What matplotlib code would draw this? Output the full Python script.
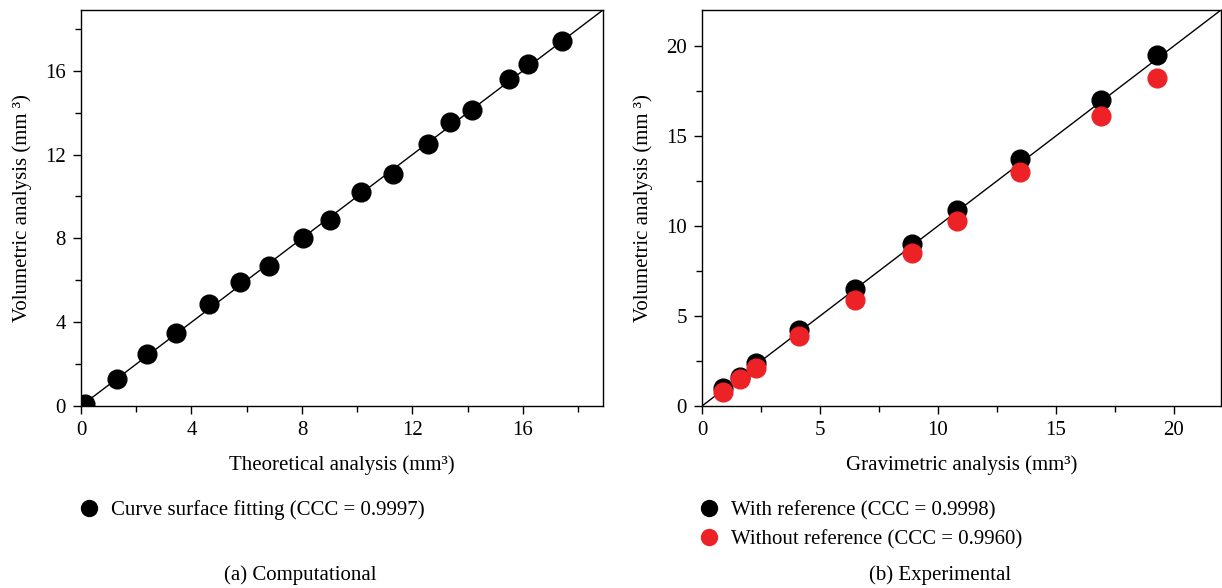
import matplotlib.pyplot as plt
import numpy as np

plt.rcParams['font.family'] = ['Liberation Serif', 'DejaVu Serif']

# (a) computational
teoria_x = np.array([0.15, 1.3, 2.4, 3.45, 4.65, 5.75, 6.8, 8.05, 9.0, 10.15,
                     11.3, 12.55, 13.35, 14.15, 15.5, 16.2, 17.4])
teoria_y = np.array([0.1, 1.3, 2.5, 3.5, 4.85, 5.9, 6.7, 8.0, 8.9, 10.2,
                     11.05, 12.5, 13.55, 14.15, 15.6, 16.3, 17.4])

# (b) experimental
grav_x = np.array([0.9, 1.6, 2.3, 4.1, 6.5, 8.9, 10.8, 13.5, 16.9, 19.3])
z_ref = np.array([1.0, 1.6, 2.4, 4.2, 6.5, 9.0, 10.9, 13.7, 17.0, 19.5])
bez_ref = np.array([0.8, 1.5, 2.1, 3.9, 5.9, 8.5, 10.3, 13.0, 16.1, 18.2])

czerwony = '#ec2227'
fs = 15
ms = 13.5

fig = plt.figure(figsize=(12.22, 5.88), dpi=100)
ax1 = fig.add_axes([81/1222, 182/588, 522/1222, 396/588])
ax2 = fig.add_axes([702/1222, 182/588, 519/1222, 396/588])

ax1.axline((0, 0), slope=1, color='black', lw=1)
k1, = ax1.plot(teoria_x, teoria_y, 'o', color='black', ms=ms, ls='none')
ax1.set_xlim(0, 18.9)
ax1.set_ylim(0, 18.9)
ax1.set_xticks(np.arange(0, 17, 4))
ax1.set_yticks(np.arange(0, 17, 4))
ax1.set_xticks(np.arange(2, 19, 4), minor=True)
ax1.set_yticks(np.arange(2, 19, 4), minor=True)
ax1.set_xlabel('Theoretical analysis (mm³)', fontsize=fs, labelpad=11)
ax1.set_ylabel('Volumetric analysis (mm ³)', fontsize=fs, labelpad=9)

ax2.axline((0, 0), slope=1, color='black', lw=1)
k2, = ax2.plot(grav_x, z_ref, 'o', color='black', ms=ms, ls='none')
k3, = ax2.plot(grav_x, bez_ref, 'o', color=czerwony, ms=ms, ls='none')
ax2.set_xlim(0, 22)
ax2.set_ylim(0, 22)
ax2.set_xticks(np.arange(0, 21, 5))
ax2.set_yticks(np.arange(0, 21, 5))
ax2.set_xticks(np.arange(2.5, 22, 5), minor=True)
ax2.set_yticks(np.arange(2.5, 22, 5), minor=True)
ax2.set_xlabel('Gravimetric analysis (mm³)', fontsize=fs, labelpad=11)
ax2.set_ylabel('Volumetric analysis (mm ³)', fontsize=fs, labelpad=9)

for ax in (ax1, ax2):
    ax.tick_params(which='major', direction='out', length=6, width=1,
                   labelsize=fs, pad=5)
    ax.tick_params(which='minor', direction='out', length=4, width=1)
    for s in ax.spines.values():
        s.set_linewidth(1)

fig.legend([k1], ['Curve surface fitting (CCC = 0.9997)'], loc='center left',
           bbox_to_anchor=(80/1222, 1 - 510/588), frameon=False, fontsize=fs,
           handlelength=0.9, handletextpad=0.6, borderpad=0, borderaxespad=0,
           markerscale=0.85)
fig.legend([k2, k3], ['With reference (CCC = 0.9998)',
                      'Without reference (CCC = 0.9960)'], loc='center left',
           bbox_to_anchor=(700/1222, 1 - 525/588), frameon=False, fontsize=fs,
           handlelength=0.9, handletextpad=0.6, borderpad=0, borderaxespad=0,
           labelspacing=0.45, markerscale=0.85)

fig.text(300/1222, 1 - 575/588, '(a) Computational', ha='center', va='center',
         fontsize=fs)
fig.text(940/1222, 1 - 575/588, '(b) Experimental', ha='center', va='center',
         fontsize=fs)

fig.savefig('out.png', dpi=100)
